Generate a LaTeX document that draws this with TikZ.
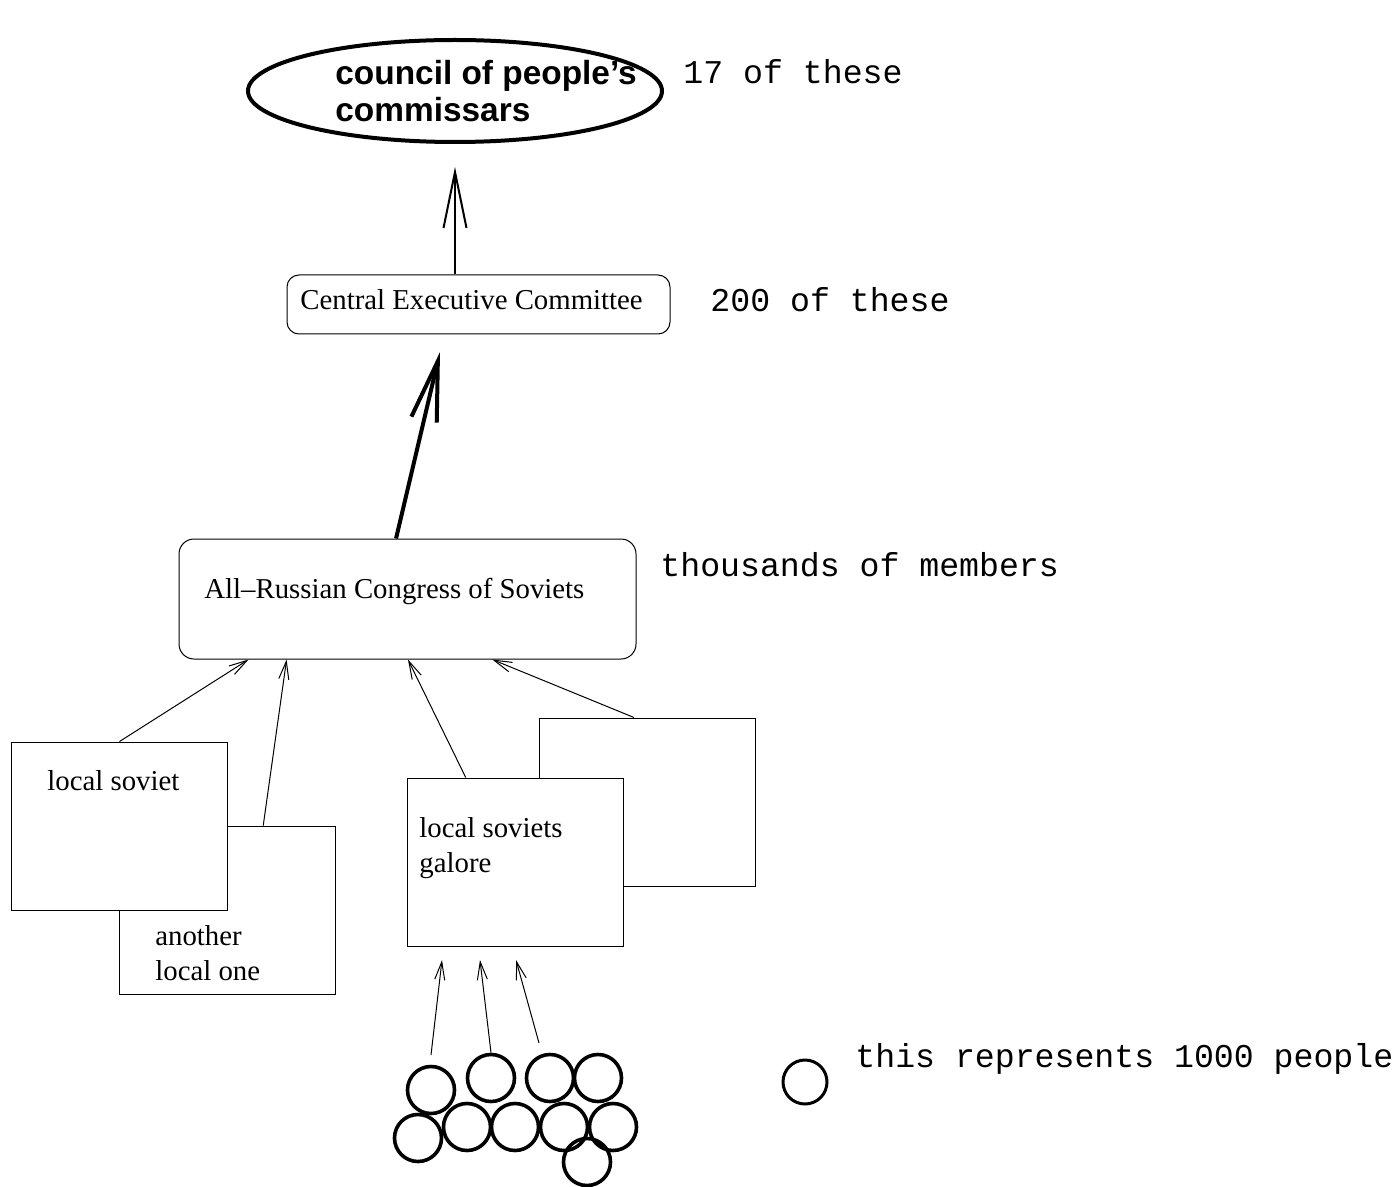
\documentclass[tikz,border=0pt]{standalone}
\usepackage{fontspec}
\setmainfont{Liberation Serif}
\setsansfont{Liberation Sans}
\setmonofont{Liberation Mono}
\usetikzlibrary{arrows.meta,calc,shapes.geometric}

\begin{document}
\begin{tikzpicture}[x=0.5pt,y=-0.5pt,
	sov/.style={draw, line width=0.5pt, fill=white, inner sep=0pt, minimum width=108pt, minimum height=84pt},
	rbox/.style={draw, line width=0.5pt, rounded corners=6pt, inner sep=0pt},
	person/.style={draw, circle, line width=1.8pt, inner sep=0pt, minimum size=23.5pt},
	rm/.style={font=\fontsize{14.4}{17.5}\selectfont, inner sep=0pt, anchor=base west, align=left},
	tt/.style={font=\ttfamily\fontsize{16.6}{20}\selectfont, inner sep=0pt, anchor=base west},
	thinarrow/.style={line width=0.5pt, -{Straight Barb[length=9pt, width=5pt]}},
	bigarrow/.style={-{Straight Barb[length=28pt, width=11.5pt]}}]
	
	\useasboundingbox (0,0) rectangle (1396,1187);
	
	%top level
	\node[draw, ellipse, line width=2pt, inner sep=0pt, minimum width=207pt, minimum height=51pt] (council) at (455,91){};
	\node[font=\sffamily\bfseries\fontsize{16.7}{18.5}\selectfont, inner sep=0pt, anchor=base west, align=left] (counciltxt) at (335,122){council of people's\\commissars};
	\node[tt] (n17) at (683,84){17 of these};
	
	%central executive committee
	\node[rbox, minimum width=191.5pt, minimum height=29.5pt] (cec) at (478.5,304.5){};
	\node[rm] (cectxt) at (300,310){Central Executive Committee};
	\node[tt] (n200) at (710,312){200 of these};
	
	%congress
	\node[rbox, rounded corners=7.5pt, minimum width=228.5pt, minimum height=60pt] (acs) at (407.5,599){};
	\node[rm] (acstxt) at (204,598){All--Russian Congress of Soviets};
	\node[tt] (nthou) at (660,576){thousands of members};
	
	%local soviets
	\node[sov] (b2) at (227,910){};
	\node[sov] (b1) at (119.5,826){};
	\node[sov] (b3) at (647,802){};
	\node[sov] (b4) at (515,862){};
	\node[rm] (b1txt) at (47,790){local soviet};
	\node[rm] (b2txt) at (155,980){another\\local one};
	\node[rm] (b4txt) at (419,872){local soviets\\galore};
	
	%people
	\node[person] (c1) at (431,1090){};
	\node[person] (c2) at (491,1078){};
	\node[person] (c3) at (550,1078){};
	\node[person] (c4) at (598,1078){};
	\node[person] (c5) at (418,1138){};
	\node[person] (c6) at (467,1127){};
	\node[person] (c7) at (515,1127){};
	\node[person] (c8) at (564,1127){};
	\node[person] (c9) at (613,1127){};
	\node[person] (c10) at (587,1162){};
	
	%legend
	\node[draw, circle, line width=1.5pt, inner sep=0pt, minimum size=22pt] (onek) at (805,1082){};
	\node[tt] (onektxt) at (855,1067){this represents 1000 people};
	
	%free arrow ends
	\coordinate (t1) at (440,352);
	\coordinate (u1) at (442,960);
	\coordinate (u2) at (480,960);
	\coordinate (u3) at (516,960);
	\coordinate (d1) at (431,1055);
	\coordinate (d3) at (539,1043);
	
	%arrows
	\draw[bigarrow, line width=1pt, shorten >=11.5pt] (council.south |- cec.north) -- (council.south);
	\draw[bigarrow, line width=2pt, -{Straight Barb[length=30pt, width=13pt]}] ($(acs.north west)!.475!(acs.north east)$) -- (t1);
	\draw[thinarrow] (b1.north) -- ($(acs.south west)!.153!(acs.south east)$);
	\draw[thinarrow] ($(b2.north west)!.667!(b2.north east)$) -- ($(acs.south west)!.236!(acs.south east)$);
	\draw[thinarrow] ($(b4.north west)!.273!(b4.north east)$) -- ($(acs.south west)!.501!(acs.south east)$);
	\draw[thinarrow] ($(b3.north west)!.44!(b3.north east)$) -- ($(acs.south west)!.685!(acs.south east)$);
	\draw[thinarrow] (d1) -- (u1);
	\draw[thinarrow] (c2.north) -- (u2);
	\draw[thinarrow] (d3) -- (u3);
	
\end{tikzpicture}
\end{document}
